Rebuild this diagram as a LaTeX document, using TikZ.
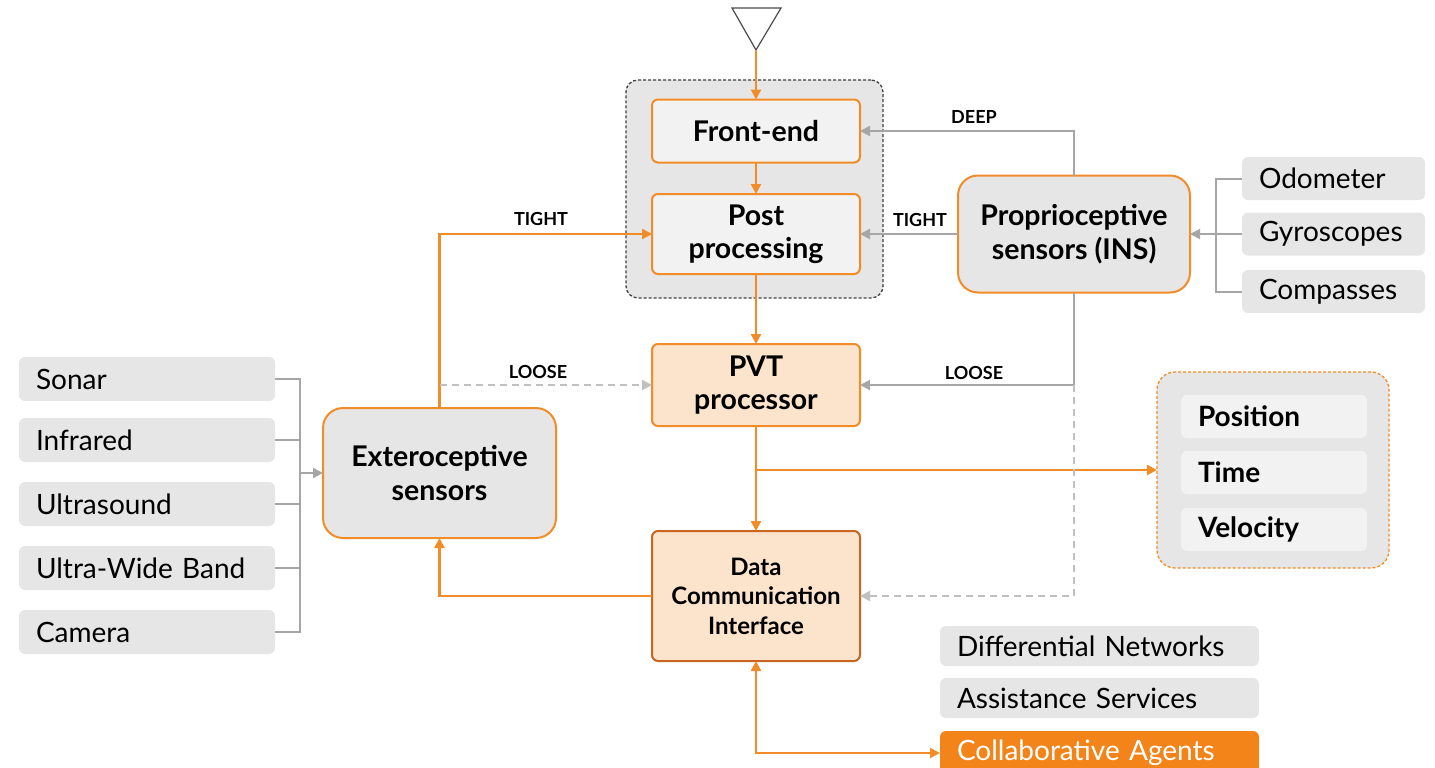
\documentclass[tikz,border=0pt]{standalone}
\usepackage{fontspec}
\setmainfont{Lato}
\usetikzlibrary{arrows.meta}
\definecolor{org}{HTML}{F28C28}
\definecolor{orgfill}{HTML}{FCE4CC}
\definecolor{orgdark}{HTML}{C8651E}
\definecolor{collab}{HTML}{F2841A}
\definecolor{boxgray}{HTML}{E6E6E6}
\definecolor{boxlight}{HTML}{F2F2F2}
\definecolor{lgray}{HTML}{A6A6A6}
\definecolor{dgray}{HTML}{C0C0C0}
\begin{document}
\begin{tikzpicture}[x=1pt,y=-1pt,
  every node/.style={inner sep=0pt, outer sep=0pt},
  tip/.style={-{Triangle[length=10pt,width=10pt]}},
  oline/.style={draw=org, line width=2.4pt},
  gline/.style={draw=lgray, line width=2pt},
  gdash/.style={draw=dgray, line width=2pt, dash pattern=on 7pt off 5pt},
  core/.style={draw=org, line width=2pt, fill=boxlight, rounded corners=6pt, minimum width=208pt, align=center, font=\bfseries\fontsize{28.5}{33}\selectfont},
  bigbox/.style={draw=org, line width=2pt, fill=boxgray, rounded corners=20pt, align=center, font=\bfseries\fontsize{28.5}{34}\selectfont},
  item/.style={fill=boxgray, rounded corners=6pt, inner xsep=17pt, align=left, font=\fontsize{28}{32}\selectfont},
  lbl/.style={font=\bfseries\fontsize{18}{20}\selectfont},
]
\useasboundingbox (0,0) rectangle (1435,768);

% groups
\node[draw=black!75, line width=1.3pt, dash pattern=on 3pt off 2pt, fill=boxgray, rounded corners=12pt,
      minimum width=257pt, minimum height=218pt] (grp) at (754.5,189) {};
\node[draw=org, line width=1.3pt, dash pattern=on 3pt off 2pt, fill=boxgray, rounded corners=18pt,
      minimum width=232pt, minimum height=196pt] (out) at (1273,470) {};

% core nodes
\node[core, minimum height=63pt] (fe) at (756,131) {Front-end};
\node[core, minimum height=80pt] (pp) at (756,234) {Post\\processing};
\node[core, fill=orgfill, minimum height=82pt] (pvt) at (756,385) {PVT\\processor};
\node[core, fill=orgfill, draw=orgdark, minimum height=130pt, font=\bfseries\fontsize{24}{29.5}\selectfont] (dci) at (756,596) {Data\\Communication\\Interface};

\node[bigbox, minimum width=233pt, minimum height=130pt] (ext) at (439.5,473) {Exteroceptive\\sensors};
\node[bigbox, minimum width=232pt, minimum height=117pt] (pro) at (1074,234) {Proprioceptive\\sensors (INS)};

% antenna
\coordinate (ant) at (756,50);
\draw[black!70, line width=1.2pt, fill=white] (732,8) -- (781,8) -- (ant) -- cycle;

% left sensors
\node[item, text width=222pt, minimum height=44pt] (sonar) at (147,379) {Sonar};
\node[item, text width=222pt, minimum height=44pt] (infra) at (147,440) {Infrared};
\node[item, text width=222pt, minimum height=44pt] (ultra) at (147,504) {Ultrasound};
\node[item, text width=222pt, minimum height=44pt] (uwb) at (147,568) {Ultra-Wide Band};
\node[item, text width=222pt, minimum height=44pt] (cam) at (147,632) {Camera};

% right sensors
\node[item, text width=149pt, minimum height=43pt] (odo) at (1333.5,178.5) {Odometer};
\node[item, text width=149pt, minimum height=43pt] (gyro) at (1333.5,234) {Gyroscopes};
\node[item, text width=149pt, minimum height=43pt] (comp) at (1333.5,291.5) {Compasses};

% outputs
\node[item, fill=boxlight, text width=152pt, minimum height=43pt, font=\bfseries\fontsize{28}{32}\selectfont] (pos) at (1274,416.5) {Position};
\node[item, fill=boxlight, text width=152pt, minimum height=43pt, font=\bfseries\fontsize{28}{32}\selectfont] (time) at (1274,472.5) {Time};
\node[item, fill=boxlight, text width=152pt, minimum height=43pt, font=\bfseries\fontsize{28}{32}\selectfont] (vel) at (1274,529.5) {Velocity};

% services
\node[item, text width=285pt, minimum height=40pt] (diff) at (1099.5,646) {Differential Networks};
\node[item, text width=285pt, minimum height=40pt] (assist) at (1099.5,698) {Assistance Services};
\node[item, fill=collab, text=white, text width=285pt, minimum height=44pt] (coll) at (1099.5,753) {Collaborative Agents};

% orange connectors
\draw[oline, tip] (ant) -- (fe.north);
\draw[oline, tip] (fe.south) -- (pp.north);
\draw[oline, tip] (pp.south) -- (pvt.north);
\draw[oline, tip] (pvt.south) -- (dci.north);
\coordinate (br) at (756,470);
\draw[oline, tip] (br) -- (out.west);
\draw[oline, tip] (ext.north) |- (pp.west);
\draw[oline, tip] (dci.west) -| (ext.south);
\draw[oline, {Triangle[length=10pt,width=10pt]}-{Triangle[length=10pt,width=10pt]}] (dci.south) |- (coll.west);

% gray connectors
\coordinate (lx) at (439.5,385);
\draw[gdash, tip] (lx) -- (pvt.west);
\draw[gline, tip] (pro.north) |- (fe.east);
\draw[gline, tip] (pro.west) -- (pp.east);
\draw[gline, tip] (pro.south) |- (pvt.east);
\coordinate (rx) at (1074,385);
\draw[gdash, tip] (rx) |- (dci.east);

% left bracket
\coordinate (lb) at (300,473);
\draw[gline] (sonar.east) -| (lb);
\draw[gline] (cam.east) -| (lb);
\draw[gline] (infra.east) -- (infra.east -| lb);
\draw[gline] (ultra.east) -- (ultra.east -| lb);
\draw[gline] (uwb.east) -- (uwb.east -| lb);
\draw[gline, tip] (lb) -- (ext.west);

% right bracket
\coordinate (rb) at (1216,234);
\draw[gline] (odo.west) -| (rb);
\draw[gline] (comp.west) -| (rb);
\draw[gline, tip] (gyro.west) -- (pro.east);

% labels
\node[lbl] (l1) at (541,219) {TIGHT};
\node[lbl] (l2) at (538,372) {LOOSE};
\node[lbl] (l3) at (974,117) {DEEP};
\node[lbl] (l4) at (920,220) {TIGHT};
\node[lbl] (l5) at (974,373) {LOOSE};
\end{tikzpicture}
\end{document}
